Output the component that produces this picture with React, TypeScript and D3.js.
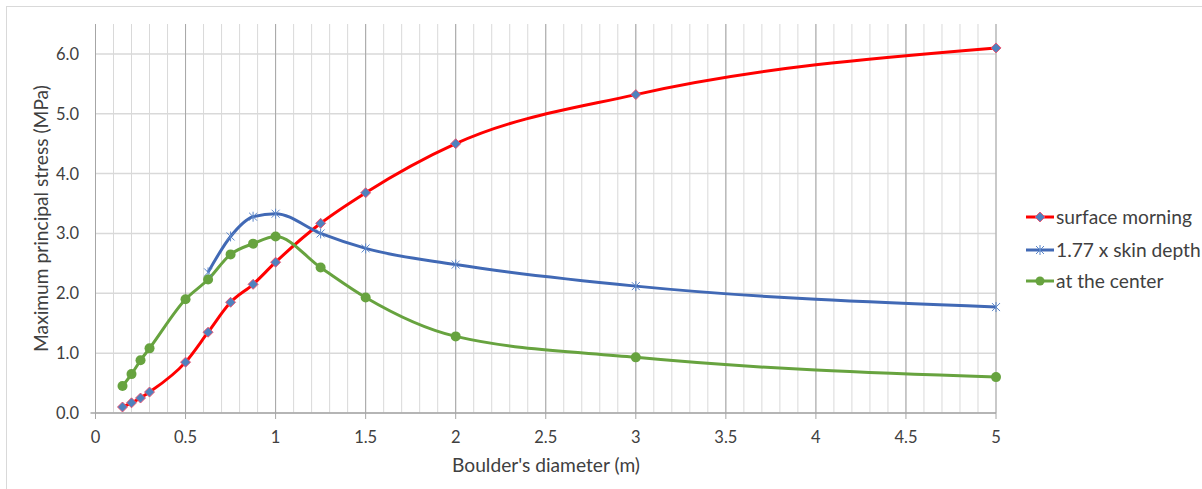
import React from "react";
import * as d3 from "d3";

// Boulder diameters (m) sampled for each series
const surfaceX = [0.15, 0.2, 0.25, 0.3, 0.5, 0.625, 0.75, 0.875, 1, 1.25, 1.5, 2, 3, 5];
const surfaceY = [0.1, 0.17, 0.25, 0.35, 0.85, 1.35, 1.85, 2.15, 2.52, 3.17, 3.68, 4.5, 5.32, 6.1];

const skinX = [0.625, 0.75, 0.875, 1, 1.25, 1.5, 2, 3, 5];
const skinY = [2.35, 2.95, 3.28, 3.33, 3.0, 2.75, 2.48, 2.12, 1.77];

const centerX = [0.15, 0.2, 0.25, 0.3, 0.5, 0.625, 0.75, 0.875, 1, 1.25, 1.5, 2, 3, 5];
const centerY = [0.45, 0.65, 0.88, 1.08, 1.9, 2.23, 2.65, 2.83, 2.95, 2.43, 1.93, 1.28, 0.93, 0.6];

const xTicks = [0, 0.5, 1, 1.5, 2, 2.5, 3, 3.5, 4, 4.5, 5];
const yTicks = [0, 1, 2, 3, 4, 5, 6];
const seriesNames = ["surface morning", "1.77 x skin depth", "at the center"];

const W = 1202;
const H = 489;
const FONT = "Lato, 'Open Sans', sans-serif";
const TEXT = "#404040";
const TICK_SIZE = 16.5;
const LABEL_SIZE = 19.2;

const RED = "#ff0000";
const BLUE = "#4169b5";
const GREEN = "#67a33f";
const DIAMOND_FILL = "#4f81bd";

type Pt = [number, number];

function zip(xs: number[], ys: number[]): Pt[] {
  return xs.map((x, i) => [x, ys[i]]);
}

function Diamond({ cx, cy, r }: { cx: number; cy: number; r: number }) {
  return (
    <path
      d={`M${cx},${cy - r}L${cx + r},${cy}L${cx},${cy + r}L${cx - r},${cy}Z`}
      fill={DIAMOND_FILL}
      stroke="#ee4d6a"
      strokeWidth={0.9}
    />
  );
}

function Star({ cx, cy, r }: { cx: number; cy: number; r: number }) {
  return (
    <path
      d={`M${cx - r},${cy - r}L${cx + r},${cy + r}M${cx - r},${cy + r}L${cx + r},${cy - r}M${cx},${cy - r - 1}L${cx},${cy + r + 1}`}
      stroke="#5b86c9"
      strokeWidth={1}
      fill="none"
    />
  );
}

export default function App() {
  const x = d3.scaleLinear().domain([0, 5]).range([95.5, 996]);
  const y = d3.scaleLinear().domain([0, 6.5]).range([413, 24]);

  const line = d3
    .line<Pt>()
    .x((d) => x(d[0]))
    .y((d) => y(d[1]))
    .curve(d3.curveMonotoneX);

  const surface = zip(surfaceX, surfaceY);
  const skin = zip(skinX, skinY);
  const center = zip(centerX, centerY);

  const minorX = d3.range(0, 51).map((i) => i / 10);

  const legendY = [217, 250, 281];
  const legendX0 = 1026;
  const legendX1 = 1054;
  const legendMid = (legendX0 + legendX1) / 2;

  return (
    <svg
      width={W}
      height={H}
      style={{ position: "absolute", left: 0, top: 0, background: "#fff" }}
      fontFamily={FONT}
    >
      <rect x={6.5} y={6.5} width={W} height={H + 10} fill="#fff" stroke="#d9d9d9" />

      {/* vertical minor gridlines every 0.1 */}
      {minorX.map((v) => (
        <line
          key={"mx" + v}
          x1={x(v)}
          x2={x(v)}
          y1={y(6.5)}
          y2={y(0)}
          stroke="#d9d9d9"
          strokeWidth={1}
        />
      ))}
      {/* horizontal major gridlines */}
      {yTicks.map((v) => (
        <line
          key={"gy" + v}
          x1={x(0)}
          x2={x(5)}
          y1={y(v)}
          y2={y(v)}
          stroke="#d9d9d9"
          strokeWidth={1.5}
        />
      ))}
      {/* vertical major gridlines every 0.5, extended as ticks below the axis */}
      {xTicks.map((v) => (
        <line
          key={"gx" + v}
          x1={x(v)}
          x2={x(v)}
          y1={y(6.5)}
          y2={y(0) + 6}
          stroke="#a6a6a6"
          strokeWidth={1}
        />
      ))}
      <line x1={x(0) - 5} x2={x(5)} y1={y(0)} y2={y(0)} stroke="#a6a6a6" strokeWidth={1.5} />

      {/* tick labels */}
      {yTicks.map((v) => (
        <text
          key={"ty" + v}
          x={79}
          y={y(v)}
          dy="0.36em"
          textAnchor="end"
          fontSize={TICK_SIZE}
          fill={TEXT}
        >
          {v.toFixed(1)}
        </text>
      ))}
      {xTicks.map((v) => (
        <text
          key={"tx" + v}
          x={x(v)}
          y={437.5}
          dy="0.36em"
          textAnchor="middle"
          fontSize={TICK_SIZE}
          fill={TEXT}
        >
          {String(v)}
        </text>
      ))}

      {/* axis titles */}
      <text x={546} y={465} dy="0.36em" textAnchor="middle" fontSize={LABEL_SIZE} fill={TEXT}>
        Boulder's diameter (m)
      </text>
      <text
        transform={`translate(41,${y(3.25)}) rotate(-90)`}
        dy="0.36em"
        textAnchor="middle"
        fontSize={LABEL_SIZE}
        fill={TEXT}
      >
        Maximum principal stress (MPa)
      </text>

      {/* series lines */}
      <path d={line(surface) || ""} fill="none" stroke={RED} strokeWidth={3} />
      <path d={line(skin) || ""} fill="none" stroke={BLUE} strokeWidth={3} />
      <path d={line(center) || ""} fill="none" stroke={GREEN} strokeWidth={3} />

      {/* markers */}
      {surface.map((d, i) => (
        <Diamond key={"sd" + i} cx={x(d[0])} cy={y(d[1])} r={5} />
      ))}
      {skin.map((d, i) => (
        <Star key={"ss" + i} cx={x(d[0])} cy={y(d[1])} r={4} />
      ))}
      {center.map((d, i) => (
        <circle key={"cc" + i} cx={x(d[0])} cy={y(d[1])} r={5} fill={GREEN} />
      ))}

      {/* legend */}
      <g>
        <line x1={legendX0} x2={legendX1} y1={legendY[0]} y2={legendY[0]} stroke={RED} strokeWidth={3} />
        <Diamond cx={legendMid} cy={legendY[0]} r={5} />
        <line x1={legendX0} x2={legendX1} y1={legendY[1]} y2={legendY[1]} stroke={BLUE} strokeWidth={3} />
        <Star cx={legendMid} cy={legendY[1]} r={4} />
        <line x1={legendX0} x2={legendX1} y1={legendY[2]} y2={legendY[2]} stroke={GREEN} strokeWidth={3} />
        <circle cx={legendMid} cy={legendY[2]} r={4.5} fill={GREEN} />
        {seriesNames.map((name, i) => (
          <text
            key={name}
            x={legendX1 + 2}
            y={legendY[i]}
            dy="0.36em"
            fontSize={LABEL_SIZE}
            fill={TEXT}
          >
            {name}
          </text>
        ))}
      </g>
    </svg>
  );
}
